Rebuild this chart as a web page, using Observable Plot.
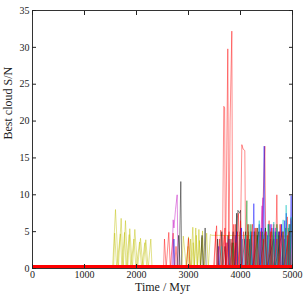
<!DOCTYPE html>
<html>
<head>
<meta charset="utf-8">
<script src="https://cdn.jsdelivr.net/npm/d3@7"></script>
<script src="https://cdn.jsdelivr.net/npm/@observablehq/plot@0.6"></script>
<style>
  html, body { margin: 0; padding: 0; background: #fff; }
  #chart svg { display: block; }
</style>
</head>
<body>
<div id="chart"></div>
<script>
const xTicks = [0, 1000, 2000, 3000, 4000, 5000];
const yTicks = [0, 5, 10, 15, 20, 25, 30, 35];
const xLabel = "Time / Myr";
const yLabel = "Best cloud S/N";

// series: [time (Myr), best-cloud S/N]
const yellowA = [[1540,0],[1596,8.0],[1650,0],[1705,6.8],[1745,0],[1788,6.5],[1830,0],[1871,5.4],[1920,0],[1968,5.3],[2020,0],[2077,4.1],[2125,0],[2179,3.9],[2225,0],[2275,4.0],[2300,0]];
const yellowB = [[1560,0],[1580,4.8],[1620,0],[1690,4.7],[1720,0],[1770,4.9],[1800,0],[1860,4.6],[1890,0],[1950,4.0],[1990,0],[2060,3.6],[2100,0],[2160,3.5],[2200,0]];
const yellowC = [[2870,0],[2900,4.4],[2960,0],[3000,4.3],[3040,0],[3083,5.6],[3110,0],[3140,5.5],[3170,0],[3200,5.3],[3230,0],[3270,5.1],[3300,0],[3350,4.8],[3380,0],[3420,4.6],[3450,4.5],[5000,4.4]];
const yellowD = [[2950,0],[2990,3.0],[3010,0],[3040,4.0],[3060,0],[3090,3.5],[3110,0],[3150,4.5],[3170,0],[3210,3.8],[3230,0],[3260,4.2],[3290,0]];
const redA = [[2520,0],[2538,4.0],[2570,0],[2621,4.9],[2650,0],[2705,4.8],[2730,0],[2760,3.0],[2790,0],[2960,0],[3000,4.1],[3030,0]];
const redB = [[3480,0],[3540,5.8],[3570,0],[3620,5.2],[3650,0],[3679,22.0],[3695,21.8],[3710,0],[3730,12.0],[3756,29.8],[3775,0],[3800,20.0],[3833,32.2],[3850,0],[3900,6.0],[3930,0],[3960,7.5],[3990,0],[4026,16.8],[4050,16.2],[4083,16.0],[4100,0],[4150,5.0],[4180,0],[4230,6.0],[4260,0],[4330,5.5],[4360,0],[4420,6.0],[4468,16.6],[4490,0],[4550,6.5],[4580,0],[4640,6.0],[4670,0],[4699,10.0],[4720,0],[4780,6.0],[4810,0],[4900,7.0],[4930,0],[4970,6.8],[5000,0]];
const redC = [[3500,0],[3520,5.0],[3550,0],[3600,4.0],[3630,0],[3700,5.5],[3720,0],[3780,5.0],[3810,0],[3870,6.0],[3890,0],[3940,5.0],[3970,0],[4000,6.5],[4020,0],[4060,5.0],[4090,0],[4140,6.0],[4170,0],[4220,5.0],[4250,0],[4300,5.5],[4330,0],[4380,5.0],[4410,0],[4480,5.0],[4510,0],[4600,5.5],[4630,0],[4700,4.0],[4730,0],[4820,5.0],[4850,0],[4930,5.0],[4960,0]];
const redD = [[3660,0],[3690,4.5],[3710,0],[3740,3.5],[3760,0],[3820,4.0],[3840,0],[3910,3.5],[3930,0],[4110,0],[4130,4.5],[4150,0],[4260,0],[4280,5.5],[4300,0],[4420,0],[4440,4.0],[4460,0],[4560,0],[4580,5.0],[4600,0],[4740,0],[4760,6.0],[4780,0],[4880,0],[4900,4.5],[4920,0]];
const magenta = [[2680,0],[2705,6.6],[2720,5.5],[2750,8.0],[2782,10.0],[2800,0],[3980,0],[4000,5.5],[4020,0],[4360,0],[4400,6.0],[4430,9.6],[4450,0],[4500,5.0],[4530,0],[4600,6.0],[4630,0],[4750,5.0],[4780,0],[4850,4.0],[4880,0],[4950,6.0],[4980,0]];
const magentaB = [[3700,0],[3720,3.5],[3740,0],[3880,0],[3900,4.5],[3920,0],[4060,0],[4080,4.0],[4100,0],[4240,0],[4260,5.0],[4280,0],[4400,0],[4415,8.5],[4440,0],[4650,0],[4670,5.5],[4690,0],[4800,0],[4820,4.5],[4840,0],[4960,0],[4985,6.5],[5000,0]];
const black = [[2820,0],[2852,11.8],[2870,0],[3290,0],[3320,5.5],[3340,0],[3600,0],[3640,5.0],[3660,0],[3700,3.0],[3720,0],[3760,4.5],[3790,0],[3860,5.0],[3880,0],[3950,7.9],[3980,7.5],[4000,7.9],[4020,0],[4100,5.0],[4120,0],[4200,4.5],[4230,0],[4350,5.0],[4370,0],[4480,5.5],[4500,0],[4640,4.0],[4660,0],[4800,5.0],[4820,0],[4950,5.0],[4970,0]];
const blackB = [[2780,0],[2810,4.5],[2840,0],[3230,0],[3260,4.5],[3280,0],[3540,0],[3560,4.0],[3580,0],[3820,0],[3840,3.5],[3860,0],[3900,0],[3925,7.5],[3945,0],[4160,0],[4180,4.0],[4200,0],[4300,0],[4320,4.5],[4340,0],[4560,0],[4580,4.0],[4600,0],[4720,0],[4740,5.0],[4760,0],[4900,0],[4920,4.5],[4940,0]];
const blue = [[2700,0],[2720,4.0],[2740,0],[3560,0],[3580,3.0],[3600,0],[3900,0],[3930,5.0],[3950,0],[4100,0],[4130,4.0],[4150,0],[4230,0],[4256,8.8],[4280,0],[4330,0],[4360,6.0],[4380,0],[4430,0],[4455,16.6],[4475,0],[4540,0],[4570,6.0],[4590,0],[4650,0],[4680,5.0],[4700,0],[4760,0],[4790,6.0],[4810,0],[4860,0],[4880,7.5],[4900,0],[4940,0],[4974,9.9],[5000,0]];
const blueB = [[3760,0],[3780,4.0],[3800,0],[4000,0],[4020,5.5],[4040,0],[4180,0],[4200,5.0],[4220,0],[4380,0],[4400,5.5],[4420,0],[4500,0],[4520,4.5],[4540,0],[4610,0],[4630,5.5],[4650,0],[4720,0],[4740,5.0],[4760,0],[4830,0],[4850,6.5],[4870,0],[4920,0],[4940,5.0],[4960,0]];
const green = [[3950,0],[3990,5.0],[4010,0],[4090,0],[4122,9.2],[4140,0],[4180,0],[4200,6.0],[4220,0],[4300,0],[4320,5.5],[4340,0],[4400,0],[4420,5.0],[4440,0],[4520,0],[4540,6.0],[4560,0],[4620,0],[4640,5.0],[4660,0],[4720,0],[4740,4.5],[4760,0],[4840,0],[4870,5.5],[4890,0],[4930,0],[4950,6.0],[4970,0]];
const greenB = [[3840,0],[3860,3.5],[3880,0],[4140,0],[4160,6.0],[4180,0],[4250,0],[4270,5.0],[4290,0],[4460,0],[4480,5.5],[4500,0],[4580,0],[4600,5.0],[4620,0],[4680,0],[4700,6.0],[4720,0],[4800,0],[4820,5.0],[4840,0],[4900,0],[4920,5.5],[4940,0]];
const cyan = [[4000,0],[4040,4.0],[4060,0],[4160,0],[4190,5.0],[4210,0],[4330,0],[4360,6.5],[4380,0],[4500,0],[4530,6.0],[4550,0],[4600,0],[4640,6.3],[4660,0],[4780,0],[4820,6.6],[4840,0],[4860,0],[4878,8.6],[4900,0],[4950,0],[4975,7.0],[5000,0]];
const cyanB = [[3620,0],[3640,3.0],[3660,0],[3780,0],[3800,4.0],[3820,0],[4080,0],[4100,4.5],[4120,0],[4280,0],[4300,5.0],[4320,0],[4440,0],[4460,4.5],[4480,0],[4680,0],[4700,5.5],[4720,0],[4900,0],[4930,6.0],[4950,0]];
const baseline = [[0,0],[5000,0]];

const series = [
  {name: "yellowA", color: "#bfbf00", pts: yellowA},
  {name: "yellowB", color: "#bfbf00", pts: yellowB},
  {name: "yellowC", color: "#bfbf00", pts: yellowC},
  {name: "yellowD", color: "#bfbf00", pts: yellowD},
  {name: "redA", color: "#ff0000", pts: redA},
  {name: "redB", color: "#ff0000", pts: redB},
  {name: "magenta", color: "#bf00bf", pts: magenta},
  {name: "magentaB", color: "#bf00bf", pts: magentaB},
  {name: "black", color: "#000000", pts: black},
  {name: "blackB", color: "#000000", pts: blackB},
  {name: "blue", color: "#0000ff", pts: blue},
  {name: "blueB", color: "#0000ff", pts: blueB},
  {name: "green", color: "#008000", pts: green},
  {name: "greenB", color: "#008000", pts: greenB},
  {name: "cyan", color: "#00bfbf", pts: cyan},
  {name: "cyanB", color: "#00bfbf", pts: cyanB},
  {name: "redC", color: "#ff0000", pts: redC},
  {name: "redD", color: "#ff0000", pts: redD}
];
const rows = series.flatMap(s => s.pts.map(([t, v]) => ({t, v, s: s.name, c: s.color})));

const chart = Plot.plot({
  width: 308,
  height: 300,
  marginLeft: 32,
  marginRight: 16,
  marginTop: 10,
  marginBottom: 32,
  style: {fontFamily: "'Liberation Serif', serif", fontSize: "10px", background: "#fff", color: "#222"},
  x: {domain: [0, 5000]},
  y: {domain: [0, 35]},
  marks: [
    Plot.line(rows, {x: "t", y: "v", z: "s", stroke: "c", strokeOpacity: 0.45, strokeWidth: 1, clip: "frame"}),
    Plot.line(baseline.map(([t, v]) => ({t, v})), {x: "t", y: "v", stroke: "#ff0000", strokeWidth: 7, clip: "frame"}),
    Plot.frame({stroke: "#333", strokeWidth: 1}),
    Plot.axisX({ticks: xTicks, tickSize: 0, tickPadding: 2, tickFormat: "d", label: null}),
    Plot.axisX({ticks: xTicks, tickSize: -4, tickFormat: () => "", label: null}),
    Plot.axisX({anchor: "top", ticks: xTicks, tickSize: -4, tickFormat: () => "", label: null}),
    Plot.axisY({ticks: yTicks, tickSize: 0, tickPadding: 3, tickFormat: "d", label: null}),
    Plot.axisY({ticks: yTicks, tickSize: -4, tickFormat: () => "", label: null}),
    Plot.axisY({anchor: "right", ticks: yTicks, tickSize: -4, tickFormat: () => "", label: null}),
    Plot.text([xLabel], {frameAnchor: "bottom", dy: 22, fontSize: 12, fill: "#222"}),
    Plot.text([yLabel], {frameAnchor: "left", dx: -24, rotate: -90, fontSize: 12, fill: "#222"})
  ]
});
document.getElementById("chart").appendChild(chart);
</script>
</body>
</html>
